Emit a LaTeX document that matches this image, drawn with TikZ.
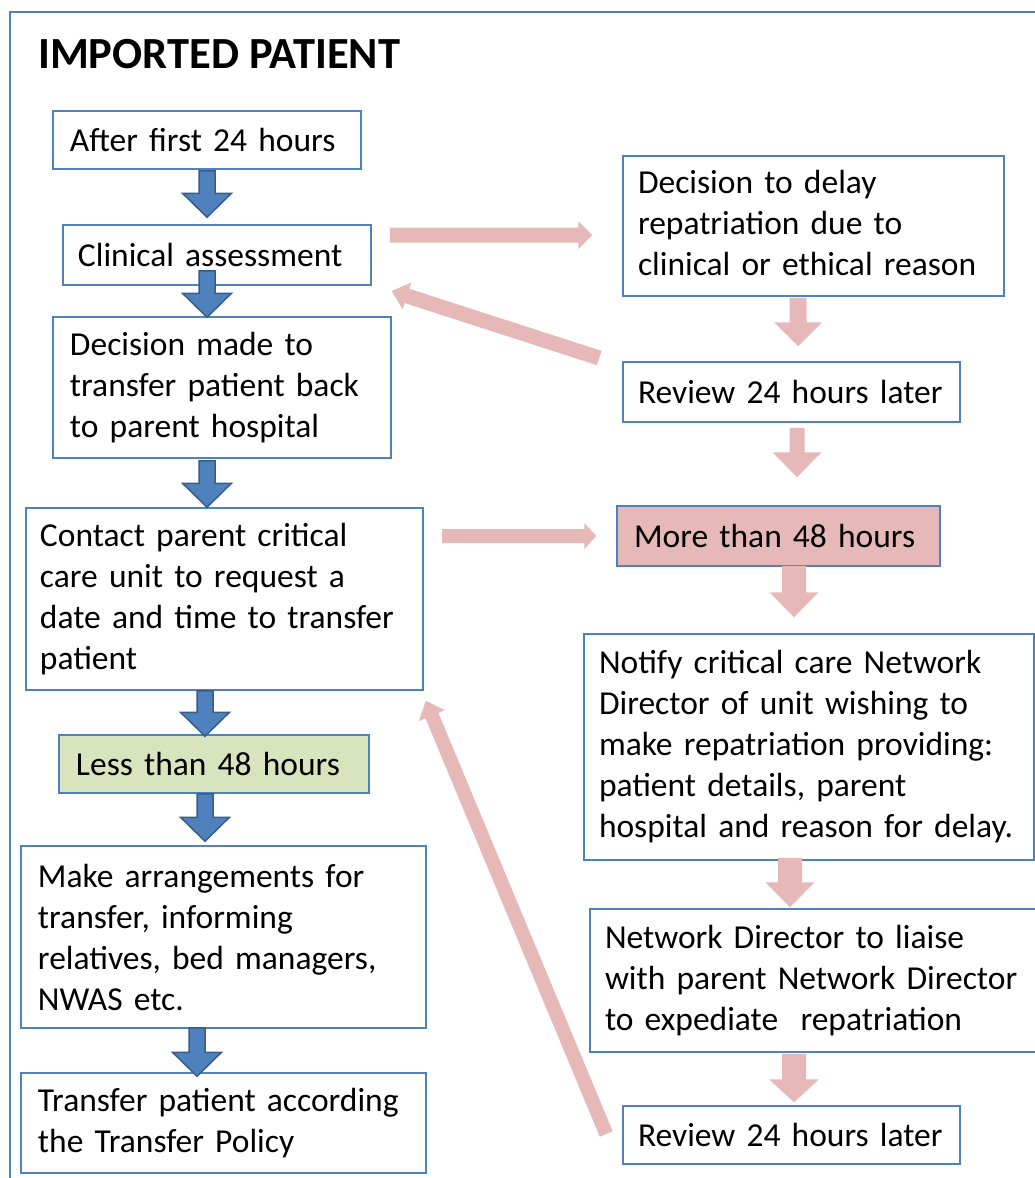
\documentclass[tikz,border=0pt]{standalone}
\usepackage{fontspec}
\setmainfont{Carlito}
\usetikzlibrary{calc}
\definecolor{boxblue}{HTML}{4F81BD}
\definecolor{arrowfill}{HTML}{4F81BD}
\definecolor{arrowedge}{HTML}{385D8A}
\definecolor{pinkarr}{HTML}{E6B9B8}
\definecolor{greenfill}{HTML}{D7E4BD}
\tikzset{
  box/.style={draw=boxblue, line width=1.5bp, align=left, inner ysep=0pt,
    font=\fontsize{33.5bp}{41bp}\selectfont},
  barrow/.style={fill=arrowfill, draw=arrowedge, line width=1.5bp, line join=miter},
  parrow/.style={fill=pinkarr, draw=none},
  frame/.style={draw=boxblue, line width=1.5bp}
}
% #1 name, #2 cx, #3 cy, #4 w, #5 h, #6 xsep, #7 opts, #8 text
\newcommand\bx[8]{\node[box,minimum width=#4bp,minimum height=#5bp,inner xsep=#6bp,text width=#4bp-2*#6bp,#7] (#1) at (#2,#3) {#8};}
% #1 style, #2 from, #3 to, #4 shaft half width, #5 head half width, #6 head length
\newcommand\fatarrow[6]{\path[#1] let \p1=(#2), \p2=(#3), \n1={atan2(\y2-\y1,\x2-\x1)} in
  ($(\p1)+(\n1+90:#4bp)$) -- ($(\p2)+(\n1+180:#6bp)+(\n1+90:#4bp)$) -- ($(\p2)+(\n1+180:#6bp)+(\n1+90:#5bp)$) -- (\p2)
  -- ($(\p2)+(\n1+180:#6bp)+(\n1-90:#5bp)$) -- ($(\p2)+(\n1+180:#6bp)+(\n1-90:#4bp)$) -- ($(\p1)+(\n1-90:#4bp)$) -- cycle;}
\begin{document}
\begin{tikzpicture}[x=1bp,y=-1bp]
\useasboundingbox (0,0) rectangle (1035,1178);
\clip (0,0) rectangle (1035,1178);
\fill[white] (0,0) rectangle (1035,1178);
\draw[frame] (10,1200) -- (10,12) -- (1050,12);
\node[anchor=base west, inner sep=0pt, font=\bfseries\fontsize{44.5bp}{52bp}\selectfont] (title) at (38,68) {IMPORTED PATIENT};

\bx{b1}{207}{140}{308}{58}{17}{}{After first 24 hours}
\bx{b2}{217}{255}{308}{60}{15}{}{Clinical assessment}
\bx{b3}{222}{387.5}{338}{141}{17}{}{Decision made to\\transfer patient back\\to parent hospital}
\bx{b4}{224.5}{599}{397}{182}{14}{}{Contact parent critical\\care unit to request a\\date and time to transfer\\patient}
\bx{b5}{214}{764}{310}{58}{17}{fill=greenfill}{Less than 48 hours}
\bx{b6}{223.5}{937}{405}{182}{17}{}{Make arrangements for\\transfer, informing\\relatives, bed managers,\\NWAS etc.}
\bx{b7}{223.5}{1123}{405}{100}{17}{}{Transfer patient according\\the Transfer Policy}
\bx{b8}{813.5}{226}{381}{140}{15}{}{Decision to delay\\repatriation due to\\clinical or ethical reason\rule[-6bp]{0pt}{6bp}}
\bx{b9}{791.5}{392}{337}{60}{15}{}{Review 24 hours later}
\bx{b10}{778.5}{536}{323}{60}{17}{fill=pinkarr}{More than 48 hours}
\bx{b11}{809}{747}{450}{226}{15}{}{Notify critical care Network\\Director of unit wishing to\\make repatriation providing:\\patient details, parent\\hospital and reason for delay.}
\bx{b12}{815}{980.5}{450}{143}{15}{}{Network Director to liaise\\with parent Network Director\\to expediate\ \ repatriation}
\bx{b13}{791.5}{1135}{337}{58}{15}{}{Review 24 hours later}

% blue arrows (left column)
\fatarrow{barrow}{$(b1.south)+(0,1)$}{$(b2.north)+(-10,-7)$}{8}{24.5}{24}
\fatarrow{barrow}{$(b2.south)+(-10,-15)$}{$(b3.north)+(-15,1)$}{8}{24.5}{24}
\fatarrow{barrow}{$(b3.south)+(-15,2)$}{$(b4.north)+(-17.5,0)$}{8}{24.5}{24}
\fatarrow{barrow}{$(b4.south)+(-19.5,0)$}{$(b5.north)+(-9,2)$}{8}{24.5}{24}
\fatarrow{barrow}{$(b5.south)+(-9,0)$}{$(b6.north)+(-18.5,-4)$}{8}{24.5}{24}
\fatarrow{barrow}{$(b6.south)+(-26.5,-1)$}{$(b7.north)+(-26.5,4)$}{8}{24.5}{24}

% pink arrows
\fatarrow{parrow}{$(b2.east)+(18,-20)$}{$(b8.west)+(-30,9)$}{7.5}{14}{14}
\fatarrow{parrow}{$(b9.west)+(-23,-34)$}{$(b2.east)+(20,36)$}{7.5}{14}{16}
\fatarrow{parrow}{$(b8.south)+(-15.5,1)$}{$(b9.north)+(6.5,-15)$}{8.5}{24}{24}
\fatarrow{parrow}{$(b9.south)+(5.5,5)$}{$(b10.north)+(18.5,-28)$}{7.5}{24.5}{25}
\fatarrow{parrow}{$(b4.east)+(18,-63)$}{$(b10.west)+(-20,0)$}{7}{13}{12}
\fatarrow{parrow}{$(b10.south)+(15.5,-1)$}{$(b11.north)+(-15,-16)$}{12}{24.5}{25}
\fatarrow{parrow}{$(b11.south)+(-19,-3)$}{$(b12.north)+(-25,-1)$}{12}{24.5}{25}
\fatarrow{parrow}{$(b12.south)+(-21,1)$}{$(b13.north)+(2.5,-3)$}{12}{25}{23}
\fatarrow{parrow}{$(b13.west)+(-16,-1)$}{$(b4.south east)+(2,10)$}{7}{14}{16}
\end{tikzpicture}
\end{document}
